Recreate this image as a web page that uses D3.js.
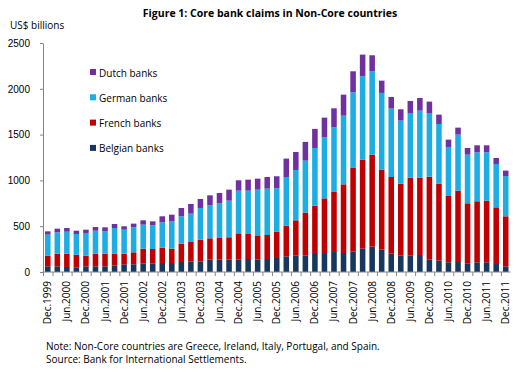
<!DOCTYPE html>
<html>
<head>
<meta charset="utf-8">
<script src="https://cdn.jsdelivr.net/npm/d3@7"></script>
<style>
  body { margin: 0; background: #fff; }
  svg { display: block; font-family: "Open Sans", "Noto Sans", sans-serif; }
</style>
</head>
<body>
<svg id="chart" width="520" height="371"></svg>
<script>
// quarterly periods, Dec.1999 .. Dec.2011
const periods = [];
for (let yr = 1999; yr <= 2011; yr++) {
  ['Mar', 'Jun', 'Sep', 'Dec'].forEach(m => {
    if (yr === 1999 && m !== 'Dec') return;
    periods.push(m + '.' + yr);
  });
}

const belgian = [62, 62, 55, 51, 62, 62, 62, 69, 84, 84, 91, 91, 98, 98, 109, 116, 116, 135, 135, 135,
  135, 142, 135, 142, 153, 171, 178, 178, 207, 207, 218, 207, 222, 255, 277, 244, 200, 178, 178, 186,
  135, 124, 106, 109, 95, 106, 106, 87, 62];
const french = [116, 138, 145, 138, 116, 138, 138, 131, 116, 131, 164, 160, 168, 157, 200, 212, 237, 233, 236, 244,
  287, 273, 265, 262, 287, 335, 386, 470, 517, 597, 656, 750, 914, 972, 1004, 874, 837, 787, 852, 844,
  906, 841, 724, 779, 655, 666, 673, 619, 546];
const german = [230, 233, 240, 226, 248, 251, 244, 280, 262, 273, 262, 259, 276, 298, 299, 309, 346, 360, 379, 400,
  466, 473, 499, 506, 474, 531, 550, 568, 630, 667, 706, 750, 826, 910, 910, 837, 747, 688, 706, 732,
  695, 651, 535, 612, 531, 535, 528, 473, 440];
const dutch = [36, 40, 40, 36, 36, 40, 44, 44, 37, 40, 47, 43, 66, 73, 91, 106, 98, 109, 113, 120,
  113, 120, 120, 127, 131, 201, 196, 204, 208, 214, 207, 229, 229, 236, 175, 134, 127, 123, 131, 138,
  124, 102, 80, 76, 73, 76, 76, 66, 59];

const seriesKeys = ['belgian', 'french', 'german', 'dutch'];
const seriesNames = ['Belgian banks', 'French banks', 'German banks', 'Dutch banks'];
const seriesColors = ['#17375E', '#C00000', '#1BADE4', '#7030A0'];
const yTicks = [0, 500, 1000, 1500, 2000, 2500];

const table = periods.map((p, i) => ({
  period: p, belgian: belgian[i], french: french[i], german: german[i], dutch: dutch[i]
}));

const svg = d3.select('#chart');
const plotLeft = 43, plotRight = 510.5, plotTop = 43, plotBottom = 272;

const x = d3.scaleBand().domain(periods).range([plotLeft, plotRight]).paddingInner(0.42).paddingOuter(0.21);
const y = d3.scaleLinear().domain([0, 2500]).range([plotBottom, plotTop]);

const stacked = d3.stack().keys(seriesKeys)(table);

svg.append('g')
  .selectAll('g').data(stacked).join('g')
  .attr('fill', (d, i) => seriesColors[i])
  .selectAll('rect').data(d => d).join('rect')
  .attr('x', d => x(d.data.period))
  .attr('width', x.bandwidth())
  .attr('y', d => y(d[1]))
  .attr('height', d => y(d[0]) - y(d[1]));

// y axis
const yAxis = svg.append('g')
  .attr('transform', `translate(${plotLeft},0)`)
  .call(d3.axisLeft(y).tickValues(yTicks).tickFormat(d3.format('d'))
    .tickSize(3).tickSizeOuter(0).tickPadding(10));
yAxis.select('.domain').attr('stroke', '#868686');
yAxis.selectAll('.tick line').attr('stroke', '#868686');
yAxis.selectAll('.tick text').attr('font-size', 10).attr('fill', '#000');

// x axis: line + boundary ticks
const step = x.step();
svg.append('line')
  .attr('x1', plotLeft).attr('x2', plotRight).attr('y1', plotBottom).attr('y2', plotBottom)
  .attr('stroke', '#868686');
svg.append('g')
  .selectAll('line').data(periods).join('line')
  .attr('x1', d => x(d) - (step - x.bandwidth()) / 2 + 0.5)
  .attr('x2', d => x(d) - (step - x.bandwidth()) / 2 + 0.5)
  .attr('y1', plotBottom).attr('y2', plotBottom + 4)
  .attr('stroke', '#868686');

// x labels: every other quarter
svg.append('g')
  .selectAll('text').data(periods.filter((p, i) => i % 2 === 0)).join('text')
  .attr('transform', d => `translate(${x(d) + x.bandwidth() / 2 + 3.5},${plotBottom + 9}) rotate(-90)`)
  .attr('text-anchor', 'end')
  .attr('font-size', 10)
  .text(d => d);

// title
svg.append('text')
  .attr('x', 270).attr('y', 17)
  .attr('text-anchor', 'middle')
  .attr('font-size', 10.5).attr('font-weight', 'bold')
  .text('Figure 1: Core bank claims in Non-Core countries');

svg.append('text')
  .attr('x', 10).attr('y', 29)
  .attr('font-size', 10)
  .text('US$ billions');

// legend (top entry first)
const legendItems = seriesNames.map((n, i) => ({ name: n, color: seriesColors[i] })).reverse();
const lg = svg.append('g')
  .selectAll('g').data(legendItems).join('g')
  .attr('transform', (d, i) => `translate(90,${73 + i * 25.3})`);
lg.append('rect').attr('x', 0).attr('y', -4).attr('width', 6).attr('height', 6).attr('fill', d => d.color);
lg.append('text').attr('x', 9).attr('y', 0).attr('dy', '0.35em').attr('font-size', 10).text(d => d.name);

// notes
svg.append('text')
  .attr('x', 46).attr('y', 350)
  .attr('font-size', 10)
  .text('Note: Non-Core countries are Greece, Ireland, Italy, Portugal, and Spain.');
svg.append('text')
  .attr('x', 46).attr('y', 363)
  .attr('font-size', 10)
  .text('Source: Bank for International Settlements.');
</script>
</body>
</html>
